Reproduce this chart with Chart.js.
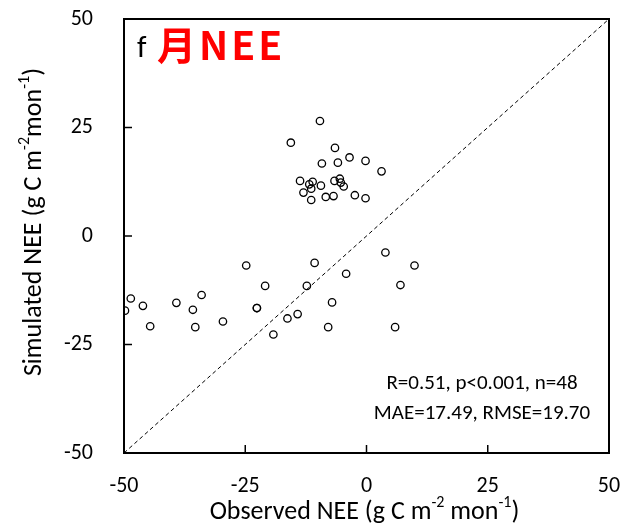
<!DOCTYPE html>
<html>
<head>
<meta charset="utf-8">
<script src="https://cdn.jsdelivr.net/npm/chart.js@4/dist/chart.umd.min.js"></script>
<style>
  body { margin: 0; background: #fff; }
  #wrap { width: 631px; height: 532px; }
</style>
</head>
<body>
<div id="wrap"><canvas id="chart"></canvas></div>
<script>
// 観測値と計算値 (g C m-2 mon-1) ==========================================
const observed = [
  -49.8, -48.6, -46.1, -44.6, -39.2, -35.8, -34.0, -35.3, -29.6, -24.8,
  -20.9, -22.6, -22.6, -19.2, -16.3, -14.2, -12.3, -10.7, -4.2, -7.1,
  -7.9, 3.9, 9.9, 7.0, 5.9, -9.6, -15.6, -6.5, -9.2, -5.9,
  -3.5, -0.2, 3.1, -13.7, -11.8, -11.1, -11.4, -13.0, -11.4, -9.4,
  -6.6, -5.5, -5.3, -4.7, -8.4, -6.8, -2.4, -0.2
];
const simulated = [
  -17.2, -14.4, -16.1, -20.8, -15.4, -17.0, -13.6, -21.0, -19.7, -6.8,
  -11.5, -16.6, -16.6, -22.7, -19.0, -18.0, -11.5, -6.2, -8.7, -15.3,
  -21.0, -3.8, -6.8, -11.3, -21.0, 26.5, 21.5, 20.3, 16.7, 16.9,
  18.1, 17.3, 14.9, 12.7, 11.9, 12.5, 10.9, 10.0, 8.3, 11.6,
  12.7, 13.2, 12.3, 11.4, 9.0, 9.2, 9.4, 8.7
];
const axisTicks = [-50, -25, 0, 25, 50];
const statLines = ['R=0.51, p<0.001, n=48', 'MAE=17.49, RMSE=19.70'];

const FONT = 'Carlito, Calibri, Lato, sans-serif';

// 上付き文字つきのテキスト
function drawRich(ctx, parts, cx, cy, size) {
  const supSize = Math.round(size * 0.62);
  let total = 0;
  parts.forEach(p => {
    ctx.font = (p.sup ? supSize : size) + 'px ' + FONT;
    p.w = ctx.measureText(p.t).width;
    total += p.w;
  });
  let x = cx - total / 2;
  ctx.textAlign = 'left';
  ctx.textBaseline = 'middle';
  parts.forEach(p => {
    ctx.font = (p.sup ? supSize : size) + 'px ' + FONT;
    ctx.fillText(p.t, x, p.sup ? cy - size * 0.33 : cy);
    x += p.w;
  });
}

const framePlugin = {
  id: 'frame',
  afterDraw(chart) {
    const ctx = chart.ctx;
    const a = chart.chartArea;
    const xs = chart.scales.x, ys = chart.scales.y;
    ctx.save();
    ctx.strokeStyle = '#000';
    ctx.fillStyle = '#000';
    ctx.lineWidth = 2;
    ctx.strokeRect(a.left, a.top, a.right - a.left, a.bottom - a.top);

    // 内向きの目盛り
    ctx.lineWidth = 1.5;
    axisTicks.slice(1, -1).forEach(v => {
      const px = xs.getPixelForValue(v);
      ctx.beginPath(); ctx.moveTo(px, a.bottom); ctx.lineTo(px, a.bottom - 8); ctx.stroke();
      const py = ys.getPixelForValue(v);
      ctx.beginPath(); ctx.moveTo(a.left, py); ctx.lineTo(a.left + 8, py); ctx.stroke();
    });

    // パネルラベル
    ctx.textBaseline = 'alphabetic';
    ctx.textAlign = 'left';
    ctx.font = '31px ' + FONT;
    ctx.fillText('f', a.left + 13, a.top + 38);
    ctx.fillStyle = '#ff0000';
    ctx.font = 'bold 39px "Noto Sans CJK SC", ' + FONT;
    ctx.letterSpacing = '3px';
    ctx.fillText('月NEE', a.left + 33, a.top + 41);
    ctx.letterSpacing = '0px';

    // 統計値
    ctx.fillStyle = '#000';
    ctx.textAlign = 'center';
    ctx.textBaseline = 'middle';
    ctx.font = '21px ' + FONT;
    statLines.forEach((s, i) => ctx.fillText(s, 482, 384 + i * 30));

    // 軸タイトル
    drawRich(ctx, [
      {t: 'Observed NEE (g C m'}, {t: '-2', sup: true}, {t: ' mon'}, {t: '-1', sup: true}, {t: ')'}
    ], (a.left + a.right) / 2 - 2, 512, 26);
    ctx.translate(34, 222);
    ctx.rotate(-Math.PI / 2);
    drawRich(ctx, [
      {t: 'Simulated NEE (g C m'}, {t: '-2', sup: true}, {t: 'mon'}, {t: '-1', sup: true}, {t: ')'}
    ], 0, 0, 26);
    ctx.restore();
  }
};

const points = observed.map((v, i) => ({x: v, y: simulated[i]}));
const oneToOne = [axisTicks[0], axisTicks[axisTicks.length - 1]].map(v => ({x: v, y: v}));

const config = {
  type: 'scatter',
  data: {
    datasets: [{
      data: points,
      pointStyle: 'circle',
      pointRadius: 3.7,
      pointBorderWidth: 1.3,
      borderColor: '#000',
      backgroundColor: 'rgba(0,0,0,0)'
    }, {
      data: oneToOne,
      showLine: true,
      borderColor: '#000',
      borderWidth: 1,
      borderDash: [4, 3],
      pointRadius: 0
    }]
  },
  options: {
    responsive: true,
    maintainAspectRatio: false,
    animation: false,
    layout: { padding: { top: 19, right: 22, left: 0, bottom: 0 } },
    plugins: { legend: { display: false }, tooltip: { enabled: false } },
    scales: {
      x: {
        type: 'linear', min: -50, max: 50,
        afterFit: s => { s.height = 79; },
        afterBuildTicks: s => { s.ticks = axisTicks.map(v => ({value: v})); },
        grid: { display: false, drawTicks: true, tickLength: 20 },
        border: { display: false },
        ticks: { color: '#000', padding: 0, font: { size: 22, family: FONT } }
      },
      y: {
        type: 'linear', min: -50, max: 50,
        afterFit: s => { s.width = 124; },
        afterBuildTicks: s => { s.ticks = axisTicks.map(v => ({value: v})); },
        grid: { display: false, drawTicks: true, tickLength: 31 },
        border: { display: false },
        ticks: { color: '#000', padding: 0, font: { size: 22, family: FONT } }
      }
    }
  },
  plugins: [framePlugin]
};

const chart = new Chart(document.getElementById('chart'), config);
</script>
</body>
</html>
